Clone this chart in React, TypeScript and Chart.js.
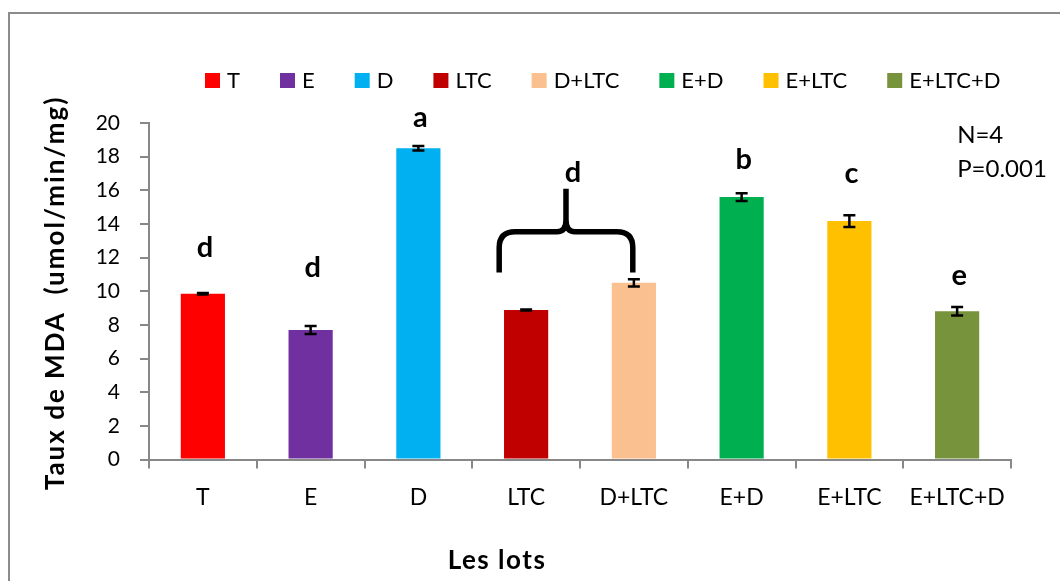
import { useEffect, useRef } from "react";
import { Chart, registerables } from "chart.js";

Chart.register(...registerables);

// ---- data ----
const categories = ["T", "E", "D", "LTC", "D+LTC", "E+D", "E+LTC", "E+LTC+D"];
const mdaValues = [9.85, 7.7, 18.5, 8.89, 10.5, 15.6, 14.17, 8.81];
const mdaErrors = [0.05, 0.24, 0.14, 0.03, 0.22, 0.23, 0.35, 0.25];
const barColors = ["#FF0000", "#7030A0", "#00B0F0", "#C00000", "#FAC090", "#00B050", "#FFC000", "#77933C"];
const sigLetters = ["d", "d", "a", "", "", "b", "c", "e"];
const sigLetterValues = [12.05, 10.86, 19.78, 0, 0, 17.28, 16.45, 10.38];
// group (brace) over LTC and D+LTC
const groupLetter = "d";
const braceFrom = 2.75;
const braceTo = 3.99;
const braceEndValue = 11.11;
const braceShoulderValue = 13.53;
const bracePeakValue = 16.09;
const groupLetterValue = 16.51;
const statsLines = ["N=4", "P=0.001"];
const statsValues = [18.83, 16.8];
const yMin = 0;
const yMax = 20;
const yStep = 2;
const yTitle = "Taux de MDA  (umol/min/mg)";
const xTitle = "Les lots";

const FONT = "Lato";

const overlay = {
  id: "overlay",
  beforeDraw(chart: any) {
    const ctx = chart.ctx;
    ctx.save();
    ctx.fillStyle = "#ffffff";
    ctx.fillRect(0, 0, chart.width, chart.height);
    ctx.strokeStyle = "#8c8c8c";
    ctx.lineWidth = 2;
    ctx.strokeRect(9, 13, chart.width + 50, chart.height + 50);
    ctx.restore();
  },
  afterDatasetsDraw(chart: any) {
    const ctx = chart.ctx;
    const xs = chart.scales.x;
    const ys = chart.scales.y;
    const meta = chart.getDatasetMeta(0);
    ctx.save();
    // error bars
    ctx.strokeStyle = "#000";
    ctx.lineWidth = 2.5;
    meta.data.forEach((bar: any, i: number) => {
      const x = bar.x;
      const yTop = ys.getPixelForValue(mdaValues[i] + mdaErrors[i]);
      const yBot = ys.getPixelForValue(mdaValues[i] - mdaErrors[i]);
      ctx.beginPath();
      ctx.moveTo(x, yTop);
      ctx.lineTo(x, yBot);
      ctx.moveTo(x - 6, yTop);
      ctx.lineTo(x + 6, yTop);
      ctx.moveTo(x - 6, yBot);
      ctx.lineTo(x + 6, yBot);
      ctx.stroke();
    });
    // significance letters
    ctx.fillStyle = "#000";
    ctx.textAlign = "center";
    ctx.textBaseline = "alphabetic";
    ctx.font = `bold 29px ${FONT}`;
    sigLetters.forEach((l, i) => {
      if (!l) return;
      ctx.fillText(l, xs.getPixelForValue(i) + 2, ys.getPixelForValue(sigLetterValues[i]));
    });
    // brace
    const x0 = xs.getPixelForValue(braceFrom);
    const x1 = xs.getPixelForValue(braceTo);
    const xm = (x0 + x1) / 2;
    const yB = ys.getPixelForValue(braceEndValue);
    const yS = ys.getPixelForValue(braceShoulderValue);
    const yP = ys.getPixelForValue(bracePeakValue);
    ctx.lineWidth = 5.5;
    ctx.lineJoin = "round";
    ctx.beginPath();
    ctx.moveTo(x0, yB);
    ctx.lineTo(x0, yS + 16);
    ctx.quadraticCurveTo(x0, yS, x0 + 16, yS);
    ctx.lineTo(xm - 9, yS);
    ctx.quadraticCurveTo(xm, yS, xm, yS - 12);
    ctx.lineTo(xm, yP);
    ctx.moveTo(xm, yS - 12);
    ctx.quadraticCurveTo(xm, yS, xm + 9, yS);
    ctx.lineTo(x1 - 16, yS);
    ctx.quadraticCurveTo(x1, yS, x1, yS + 16);
    ctx.lineTo(x1, yB);
    ctx.stroke();
    ctx.fillText(groupLetter, xm + 7, ys.getPixelForValue(groupLetterValue));
    // stats text
    ctx.font = `24px ${FONT}`;
    ctx.textAlign = "left";
    statsLines.forEach((t, i) => {
      ctx.fillText(t, xs.getPixelForValue(categories.length - 1), ys.getPixelForValue(statsValues[i]));
    });
    // legend
    ctx.font = `22px ${FONT}`;
    ctx.textBaseline = "middle";
    let lx = 205;
    const ly = 73;
    categories.forEach((c, i) => {
      ctx.fillStyle = barColors[i];
      ctx.fillRect(lx, ly, 15, 15);
      ctx.fillStyle = "#000";
      ctx.fillText(c, lx + 22, ly + 8);
      lx += 22 + ctx.measureText(c).width + 40;
    });
    // axis titles
    ctx.textBaseline = "alphabetic";
    ctx.textAlign = "center";
    ctx.font = `bold 26px ${FONT}`;
    (ctx as any).letterSpacing = "1.5px";
    ctx.fillText(xTitle, 497, 569);
    ctx.save();
    ctx.translate(64, 293);
    ctx.rotate(-Math.PI / 2);
    (ctx as any).letterSpacing = "2px";
    ctx.fillText(yTitle, 0, 0);
    ctx.restore();
    ctx.restore();
  },
};

export default function App() {
  const ref = useRef<HTMLCanvasElement | null>(null);
  useEffect(() => {
    if (!ref.current) return;
    Chart.defaults.font.family = FONT;
    const chart = new Chart(ref.current, {
      type: "bar",
      data: {
        labels: categories,
        datasets: [
          {
            data: mdaValues,
            backgroundColor: barColors,
            borderWidth: 0,
            barPercentage: 0.41,
            categoryPercentage: 1,
          },
        ],
      },
      options: {
        animation: false,
        responsive: true,
        maintainAspectRatio: false,
        layout: { padding: { top: 123, right: 49, left: 0, bottom: 0 } },
        plugins: { legend: { display: false }, tooltip: { enabled: false } },
        scales: {
          x: {
            offset: true,
            grid: { display: true, drawOnChartArea: false, drawTicks: true, tickLength: 9, color: "#888", lineWidth: 2, offset: true },
            border: { display: true, color: "#888", width: 2 },
            ticks: { font: { size: 23, family: FONT }, color: "#000", padding: 15 },
            afterFit: (s: any) => {
              s.height = 121.5;
            },
          },
          y: {
            min: yMin,
            max: yMax,
            grid: { display: true, drawOnChartArea: false, drawTicks: true, tickLength: 9, color: "#888", lineWidth: 2 },
            border: { display: true, color: "#888", width: 2 },
            ticks: { stepSize: yStep, font: { size: 21, family: FONT }, color: "#000", padding: 20 },
            afterFit: (s: any) => {
              s.width = 149;
            },
          },
        },
      },
      plugins: [overlay],
    });
    return () => chart.destroy();
  }, []);
  return (
    <div style={{ position: "fixed", left: 0, top: 0, width: 1060, height: 581, background: "#fff" }}>
      <canvas ref={ref} />
    </div>
  );
}
